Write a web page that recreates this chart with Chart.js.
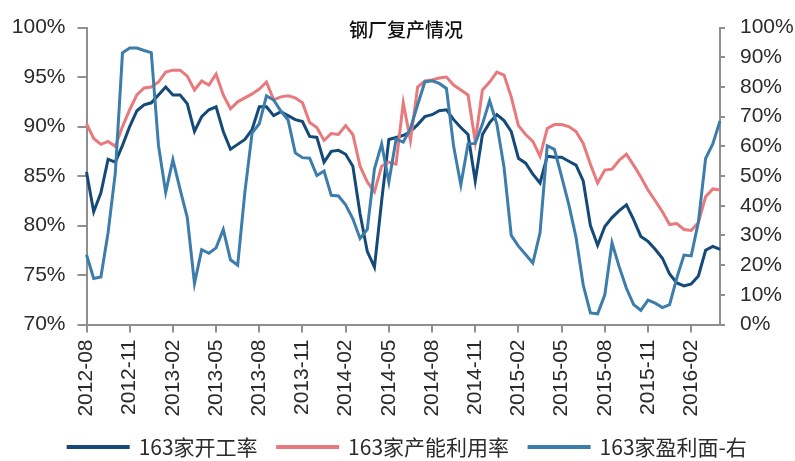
<!DOCTYPE html>
<html>
<head>
<meta charset="utf-8">
<script src="https://cdn.jsdelivr.net/npm/chart.js@4.4.1/dist/chart.umd.min.js"></script>
<style>
html,body{margin:0;padding:0;background:#ffffff;}
#wrap{position:relative;width:795px;height:461px;}
</style>
</head>
<body>
<div id="wrap"><canvas id="c" width="795" height="461"></canvas></div>
<script>
// half-month sampling points
const categories = [
 '2012-08-01','2012-08-16','2012-09-01','2012-09-16','2012-10-01','2012-10-16','2012-11-01','2012-11-16','2012-12-01','2012-12-16',
 '2013-01-01','2013-01-16','2013-02-01','2013-02-16','2013-03-01','2013-03-16','2013-04-01','2013-04-16','2013-05-01','2013-05-16',
 '2013-06-01','2013-06-16','2013-07-01','2013-07-16','2013-08-01','2013-08-16','2013-09-01','2013-09-16','2013-10-01','2013-10-16',
 '2013-11-01','2013-11-16','2013-12-01','2013-12-16','2014-01-01','2014-01-16','2014-02-01','2014-02-16','2014-03-01','2014-03-16',
 '2014-04-01','2014-04-16','2014-05-01','2014-05-16','2014-06-01','2014-06-16','2014-07-01','2014-07-16','2014-08-01','2014-08-16',
 '2014-09-01','2014-09-16','2014-10-01','2014-10-16','2014-11-01','2014-11-16','2014-12-01','2014-12-16','2015-01-01','2015-01-16',
 '2015-02-01','2015-02-16','2015-03-01','2015-03-16','2015-04-01','2015-04-16','2015-05-01','2015-05-16','2015-06-01','2015-06-16',
 '2015-07-01','2015-07-16','2015-08-01','2015-08-16','2015-09-01','2015-09-16','2015-10-01','2015-10-16','2015-11-01','2015-11-16',
 '2015-12-01','2015-12-16','2016-01-01','2016-01-16','2016-02-01','2016-02-16','2016-03-01','2016-03-16','2016-04-01'
];
const tickLabels = ['2012-08','2012-11','2013-02','2013-05','2013-08','2013-11','2014-02','2014-05','2014-08','2014-11','2015-02','2015-05','2015-08','2015-11','2016-02'];

// 163家开工率 (left axis, %)
const kaigongRate = [
 85.4,81.4,83.3,86.7,86.4,88.1,90.0,91.6,92.2,92.4,
 93.2,94.0,93.2,93.2,92.3,89.5,91.0,91.7,92.0,89.5,
 87.7,88.2,88.7,89.7,92.0,92.0,91.1,91.5,91.1,90.7,
 90.5,89.0,88.9,86.4,87.5,87.6,87.2,86.0,81.2,77.4,
 75.8,82.5,88.7,88.9,89.1,89.5,90.2,91.0,91.2,91.6,
 91.7,90.7,89.9,89.2,84.5,89.2,90.4,91.2,90.6,89.5,
 86.8,86.3,85.2,84.3,87.0,86.9,86.9,86.5,86.1,84.5,
 80.0,78.0,79.9,80.8,81.5,82.1,80.6,78.9,78.4,77.6,
 76.7,75.1,74.2,73.9,74.1,74.9,77.5,77.9,77.6
];
// 163家产能利用率 (left axis, %)
const capacityRate = [
 90.3,88.8,88.2,88.5,88.0,90.0,91.7,93.2,93.9,94.0,
 94.5,95.5,95.7,95.7,95.1,93.7,94.6,94.2,95.3,93.2,
 91.8,92.5,92.9,93.3,93.8,94.5,92.7,93.0,93.1,92.9,
 92.4,90.4,89.9,88.6,89.3,89.2,90.1,89.2,86.0,84.4,
 83.4,86.0,86.4,86.2,92.4,88.6,94.0,94.6,94.7,94.9,
 95.0,94.2,93.7,93.2,88.5,93.7,94.5,95.5,95.2,93.0,
 90.1,89.2,88.5,87.0,89.8,90.2,90.2,90.0,89.5,88.3,
 86.2,84.3,85.6,85.7,86.6,87.2,86.1,84.9,83.6,82.5,
 81.4,80.1,80.2,79.6,79.5,80.3,82.9,83.7,83.6
];
// 163家盈利面 (right axis, %)
const profitShare = [
 23.5,15.5,16.0,31.0,51.0,91.5,93.1,93.1,92.3,91.6,
 60.3,44.5,55.5,45.5,36.0,13.8,25.2,24.0,25.8,32.0,
 21.8,20.0,44.6,64.5,67.6,77.0,75.6,71.9,68.9,57.8,
 56.2,56.0,50.2,51.7,43.5,43.3,40.3,35.6,29.0,32.0,
 52.4,60.8,48.0,62.4,61.4,66.0,74.0,81.7,82.1,81.2,
 79.5,60.0,47.0,60.8,61.0,67.5,75.4,67.5,53.0,30.0,
 26.4,23.6,20.7,30.9,60.2,59.0,49.8,40.4,29.4,13.3,
 3.9,3.6,10.0,27.5,19.4,12.2,6.7,4.8,8.2,7.2,
 5.7,6.7,15.7,23.4,23.1,34.5,55.9,60.8,68.6
];
const seriesNames = ['163家开工率','163家产能利用率','163家盈利面-右'];
const titleText = '钢厂复产情况';

const axisColor = '#8f8f8f';
const textColor = '#2b2b2b';
const tickFont = {family: "'Liberation Sans', Arial, sans-serif", size: 21};

const innerTitle = {
  id: 'innerTitle',
  afterDraw(chart) {
    const ctx = chart.ctx;
    ctx.save();
    ctx.font = "500 19px 'Noto Sans CJK SC', sans-serif";
    ctx.fillStyle = '#111111';
    ctx.textAlign = 'center';
    ctx.textBaseline = 'middle';
    ctx.fillText(titleText, 406, 30);
    ctx.restore();
  }
};

new Chart(document.getElementById('c'), {
  type: 'line',
  data: {
    labels: categories,
    datasets: [
      {label: seriesNames[0], data: kaigongRate, yAxisID: 'y', borderColor: '#154a78', backgroundColor: '#154a78', borderWidth: 3, pointRadius: 0, tension: 0, order: 3},
      {label: seriesNames[1], data: capacityRate, yAxisID: 'y', borderColor: '#e8797c', backgroundColor: '#e8797c', borderWidth: 3, pointRadius: 0, tension: 0, order: 2},
      {label: seriesNames[2], data: profitShare, yAxisID: 'y1', borderColor: '#3c7dab', backgroundColor: '#3c7dab', borderWidth: 3, pointRadius: 0, tension: 0, order: 1}
    ]
  },
  options: {
    responsive: false,
    animation: false,
    devicePixelRatio: 1,
    layout: {padding: {top: 23, left: 0, right: -20, bottom: -6.5}},
    plugins: {
      title: {display: false},
      tooltip: {enabled: false},
      legend: {
        position: 'bottom',
        labels: {
          boxWidth: 60,
          boxHeight: 1,
          padding: 20,
          color: textColor,
          font: {family: "'Noto Sans CJK SC', sans-serif", size: 21},
          sort: (a, b) => a.datasetIndex - b.datasetIndex
        }
      }
    },
    scales: {
      x: {
        type: 'category',
        offset: false,
        border: {color: axisColor, width: 2},
        grid: {drawOnChartArea: false, color: axisColor, lineWidth: 2, tickLength: 8},
        ticks: {
          autoSkip: false, maxRotation: 90, minRotation: 90, padding: 7,
          font: tickFont, color: textColor,
          callback: function(value) { return tickLabels[Math.round(value / 6)]; }
        },
        afterBuildTicks: function(scale) { scale.ticks = scale.ticks.filter(t => t.value % 6 === 0); },
        afterFit: function(scale) { scale.height = 92; }
      },
      y: {
        position: 'left', min: 70, max: 100,
        border: {color: axisColor, width: 2},
        grid: {drawOnChartArea: false, color: axisColor, lineWidth: 2, tickLength: 9},
        ticks: {stepSize: 5, padding: 12, font: tickFont, color: textColor, callback: v => v + '%'},
        afterFit: function(scale) { scale.width = 86.5; }
      },
      y1: {
        position: 'right', min: 0, max: 100,
        border: {color: axisColor, width: 2},
        grid: {drawOnChartArea: false, color: axisColor, lineWidth: 2, tickLength: 5},
        ticks: {stepSize: 10, padding: 15, font: tickFont, color: textColor, callback: v => v + '%'},
        afterFit: function(scale) { scale.width = 95; }
      }
    }
  },
  plugins: [innerTitle]
});
</script>
</body>
</html>
